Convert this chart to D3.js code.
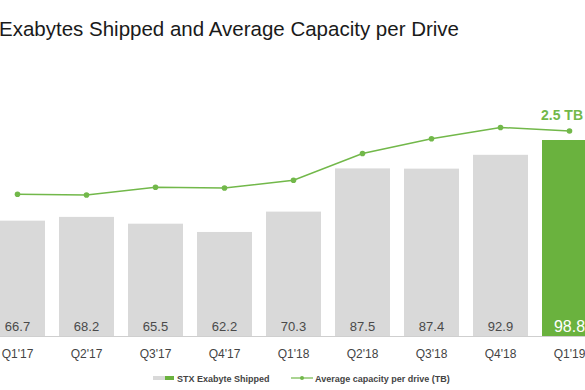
<!DOCTYPE html>
<html><head><meta charset="utf-8">
<script src="https://cdn.jsdelivr.net/npm/d3@7"></script>
<style>body{margin:0;background:#fff;overflow:hidden}svg{display:block}text{font-family:"Liberation Sans",Arial,sans-serif}</style>
</head><body><svg id="c" width="585" height="390"></svg>
<script>
const quarters = ["Q1'17","Q2'17","Q3'17","Q4'17","Q1'18","Q2'18","Q3'18","Q4'18","Q1'19"];
const exabytes = [66.7,68.2,65.5,62.2,70.3,87.5,87.4,92.9,98.8];
const avgCapacity = [1.60,1.59,1.70,1.69,1.80,2.18,2.39,2.55,2.50];
const legendLabels = ["STX Exabyte Shipped","Average capacity per drive (TB)"];
const titleText = "Exabytes Shipped and Average Capacity per Drive";
const calloutText = "2.5 TB";

const svg = d3.select("#c");
const grey = "#d9d9d9", green = "#6ab23e", lineGreen = "#72b84a";
const x = d3.scaleBand().domain(quarters).range([-17, 604]).paddingInner(14/69).paddingOuter(7/69);
const y = d3.scaleLinear().domain([20.8, 98.8]).range([336, 140]);
const y2 = d3.scaleLinear().domain([1.6, 2.5]).range([194.3, 131]);

svg.append("text").attr("x", -1).attr("y", 36).attr("font-size", 20.5).attr("fill", "#1a1a1a").text(titleText);

svg.selectAll("rect.bar").data(quarters).join("rect").attr("class","bar")
  .attr("x", d => x(d)).attr("width", x.bandwidth())
  .attr("y", (d,i) => y(exabytes[i])).attr("height", (d,i) => y(y.domain()[0]) - y(exabytes[i]))
  .attr("fill", (d,i) => i === quarters.length-1 ? green : grey);

svg.append("line").attr("x1",0).attr("x2",585).attr("y1",336.5).attr("y2",336.5).attr("stroke","#cfcfcf").attr("stroke-width",1);

svg.selectAll("text.val").data(quarters).join("text").attr("class","val")
  .attr("x", d => x(d) + x.bandwidth()/2)
  .attr("y", (d,i) => i === quarters.length-1 ? 332 : 331)
  .attr("text-anchor","middle")
  .attr("font-size", (d,i) => i === quarters.length-1 ? 16 : 13)
  .attr("fill", (d,i) => i === quarters.length-1 ? "#fff" : "#4a4a4a")
  .text((d,i) => exabytes[i].toFixed(1));

const xAxis = svg.append("g").attr("transform","translate(0,336)")
  .call(d3.axisBottom(x).tickSize(0).tickPadding(13));
xAxis.select(".domain").remove();
xAxis.selectAll("text").attr("font-size", 12).attr("fill", "#444").attr("font-family",'"Liberation Sans",Arial,sans-serif');

const line = d3.line().x((d,i) => x(quarters[i]) + x.bandwidth()/2).y(d => y2(d));
svg.append("path").datum(avgCapacity).attr("d", line).attr("fill","none").attr("stroke",lineGreen).attr("stroke-width",1.5);
svg.selectAll("circle.pt").data(avgCapacity).join("circle").attr("class","pt")
  .attr("cx", (d,i) => x(quarters[i]) + x.bandwidth()/2).attr("cy", d => y2(d)).attr("r", 2.8).attr("fill", lineGreen);

svg.append("text").attr("x", 541).attr("y", 120).attr("font-size", 14).attr("font-weight","bold").attr("fill", lineGreen).text(calloutText);

// legend
const lg = svg.append("g");
lg.append("rect").attr("x",153).attr("y",376).attr("width",12).attr("height",4).attr("fill",grey);
lg.append("rect").attr("x",165).attr("y",376).attr("width",9).attr("height",4).attr("fill",green);
lg.append("text").attr("x",177).attr("y",381.5).attr("font-size",9).attr("font-weight","bold").attr("fill","#444").text(legendLabels[0]);
lg.append("line").attr("x1",291).attr("x2",313).attr("y1",378).attr("y2",378).attr("stroke",lineGreen).attr("stroke-width",1.2);
lg.append("circle").attr("cx",302).attr("cy",378).attr("r",2).attr("fill",lineGreen);
lg.append("text").attr("x",315).attr("y",381.5).attr("font-size",9).attr("font-weight","bold").attr("fill","#444").text(legendLabels[1]);
</script></body></html>
